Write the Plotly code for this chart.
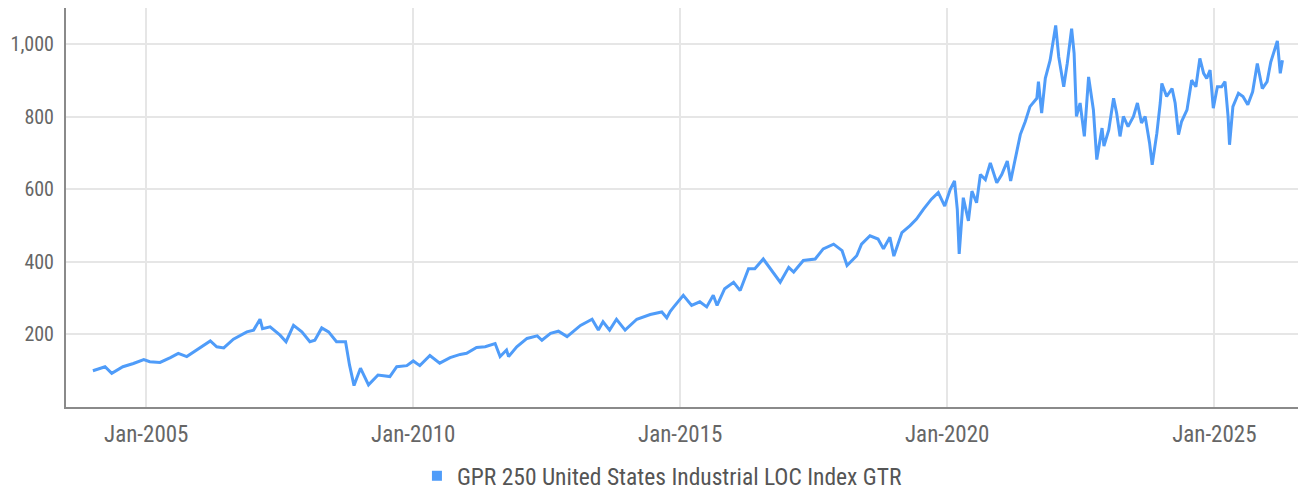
import plotly.graph_objects as go

series_name = "GPR 250 United States Industrial LOC Index GTR"

dates = [
    "2004-01-02", "2004-02-15", "2004-03-25", "2004-05-10", "2004-07-25", "2004-10-05", "2004-12-15",
    "2005-01-25", "2005-04-05", "2005-06-15", "2005-08-08", "2005-10-05", "2005-12-15",
    "2006-03-15", "2006-04-28", "2006-06-15", "2006-08-20", "2006-11-20",
    "2007-01-05", "2007-02-18", "2007-03-07", "2007-04-28", "2007-07-05", "2007-08-15", "2007-10-05", "2007-12-01",
    "2008-01-25", "2008-02-28", "2008-04-15", "2008-06-01", "2008-07-25", "2008-09-25", "2008-10-22", "2008-11-22",
    "2009-01-05", "2009-03-01", "2009-05-05", "2009-07-25", "2009-09-10", "2009-11-18",
    "2010-01-01", "2010-02-15", "2010-04-25", "2010-07-01", "2010-09-10", "2010-11-18",
    "2011-01-01", "2011-03-10", "2011-05-08", "2011-07-15", "2011-08-18", "2011-10-01", "2011-10-15", "2011-12-10",
    "2012-02-18", "2012-04-28", "2012-05-30", "2012-07-28", "2012-09-20", "2012-11-18",
    "2013-02-18", "2013-05-08", "2013-06-20", "2013-07-22", "2013-09-05", "2013-10-22", "2013-12-20",
    "2014-03-10", "2014-06-10", "2014-08-28", "2014-10-01", "2014-10-25", "2014-11-18",
    "2015-01-22", "2015-03-20", "2015-05-15", "2015-07-01", "2015-08-15", "2015-09-10", "2015-11-01",
    "2016-01-01", "2016-02-15", "2016-04-12", "2016-05-25", "2016-07-22", "2016-09-10", "2016-11-15",
    "2017-01-12", "2017-02-15", "2017-04-22", "2017-07-12", "2017-09-05", "2017-11-15",
    "2018-01-12", "2018-02-15", "2018-04-22", "2018-05-25", "2018-07-22", "2018-09-15", "2018-10-22", "2018-12-05",
    "2019-01-01", "2019-02-25", "2019-04-22", "2019-06-05", "2019-07-22", "2019-09-15", "2019-11-01", "2019-12-15",
    "2020-01-22", "2020-02-20", "2020-03-10", "2020-03-23", "2020-04-20", "2020-05-25", "2020-06-18", "2020-07-20",
    "2020-08-15", "2020-09-18", "2020-10-22", "2020-12-05",
    "2021-01-08", "2021-02-15", "2021-03-10", "2021-04-20", "2021-05-15", "2021-06-18", "2021-07-20", "2021-09-05",
    "2021-09-16", "2021-10-08", "2021-11-02", "2021-12-05", "2021-12-25",
    "2022-01-12", "2022-02-02", "2022-03-08", "2022-04-01", "2022-05-01", "2022-05-18", "2022-06-03", "2022-06-28",
    "2022-07-27", "2022-08-25", "2022-09-27", "2022-10-20", "2022-11-25", "2022-12-08",
    "2023-01-10", "2023-02-12", "2023-03-05", "2023-03-28", "2023-04-20", "2023-05-22", "2023-06-28", "2023-07-25",
    "2023-08-22", "2023-09-16", "2023-10-16", "2023-11-03", "2023-12-05", "2023-12-28",
    "2024-01-08", "2024-02-10", "2024-03-18", "2024-04-08", "2024-05-01", "2024-05-22", "2024-06-28", "2024-07-30",
    "2024-08-28", "2024-09-24", "2024-10-20", "2024-11-10", "2024-12-03", "2024-12-25",
    "2025-01-22", "2025-02-20", "2025-03-15", "2025-04-05", "2025-04-15", "2025-05-08", "2025-06-15", "2025-07-16",
    "2025-08-18", "2025-09-20", "2025-10-22", "2025-11-25", "2025-12-28",
    "2026-01-22", "2026-03-08", "2026-03-28", "2026-04-12",
]

values = [
    100, 106, 111, 93, 111, 120, 131,
    125, 123, 136, 148, 139, 157,
    182, 166, 163, 187, 207,
    212, 242, 216, 221, 198, 180, 225, 207,
    180, 184, 218, 207, 180, 180, 116, 59,
    107, 61, 88, 84, 111, 114,
    127, 114, 142, 121, 136, 145,
    148, 164, 166, 175, 139, 157, 139, 166,
    189, 196, 184, 203, 209, 194,
    225, 242, 212, 235, 212, 242, 212,
    242, 255, 262, 246, 264, 276,
    308, 280, 290, 276, 308, 280, 326,
    344, 321, 381, 381, 408, 381, 344,
    385, 372, 404, 408, 436, 449,
    431, 390, 417, 449, 472, 463, 436, 468,
    416, 481, 500, 518, 545, 573, 591, 554,
    600, 623, 545, 422, 577, 513, 595, 563,
    641, 627, 673, 618,
    641, 678, 623, 700, 751, 787, 828, 851,
    897, 810, 906, 956, 1006,
    1052, 965, 883, 947, 1043, 975, 801, 838,
    746, 910, 819, 682, 769, 719,
    764, 851, 810, 746, 801, 773, 801, 838,
    783, 801, 728, 668, 755, 838,
    892, 856, 878, 838, 751, 787, 819, 901,
    883, 961, 920, 906, 929, 824,
    883, 883, 897, 801, 723, 828, 865, 856,
    833, 869, 947, 878, 897,
    951, 1009, 920, 956,
]

y_tickvals = [200, 400, 600, 800, 1000]
y_ticktext = ["200", "400", "600", "800", "1,000"]
x_tickvals = ["2005-01-01", "2010-01-01", "2015-01-01", "2020-01-01", "2025-01-01"]
x_ticktext = ["Jan-2005", "Jan-2010", "Jan-2015", "Jan-2020", "Jan-2025"]

LINE = "#4f9cf9"
FONT = "Roboto Condensed, Roboto, sans-serif"

fig = go.Figure()
fig.add_trace(go.Scatter(
    x=dates, y=values, mode="lines", name=series_name,
    line=dict(color=LINE, width=3), showlegend=False,
))
fig.add_trace(go.Scatter(
    x=[None], y=[None], mode="markers", name=series_name,
    marker=dict(symbol="square", size=10, color=LINE), showlegend=True,
))

fig.update_layout(
    width=1306, height=490,
    margin=dict(l=58, r=8, t=0, b=90),
    paper_bgcolor="white", plot_bgcolor="white",
    font=dict(family=FONT, size=22, color="#666666"),
    legend=dict(orientation="h", x=0.481, xanchor="center", y=-0.1725, yanchor="middle",
                font=dict(size=23.5, color="#555555"), itemwidth=30),
    xaxis=dict(
        type="date", range=["2003-07-02", "2026-09-20"],
        tickvals=x_tickvals, ticktext=x_ticktext, tickfont=dict(size=23),
        showgrid=True, gridcolor="#e6e6e6", gridwidth=2,
        showline=True, linecolor="#8a8a8a", linewidth=2,
        ticks="", ticklabelstandoff=5, zeroline=False, automargin=False,
    ),
    yaxis=dict(
        range=[0, 1100], tickvals=y_tickvals, ticktext=y_ticktext, tickfont=dict(size=20),
        showgrid=True, gridcolor="#e6e6e6", gridwidth=2,
        showline=True, linecolor="#8a8a8a", linewidth=2,
        ticks="", ticklabelstandoff=6, zeroline=False, automargin=False,
    ),
)

fig.write_html("out.html")
